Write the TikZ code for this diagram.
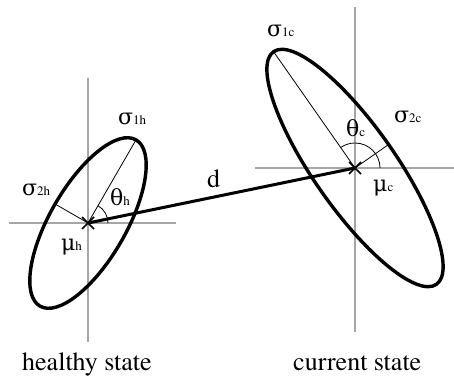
\documentclass[tikz,border=0pt]{standalone}
\usepackage{fontspec}
\setmainfont{TeX Gyre Termes}
\newfontfamily\grk{DejaVu Serif}
\usetikzlibrary{calc}
\newcommand\glab[2]{{\grk\fontsize{22}{22}\selectfont #1}{\fontsize{13}{13}\selectfont #2}}
\begin{document}
\begin{tikzpicture}[x=1pt,y=1pt,
  axisline/.style={draw=black!35,line width=1.3pt},
  ell/.style={draw=black,line width=3.4pt},
  thin/.style={draw=black,line width=0.8pt},
  crossline/.style={draw=black,line width=1.6pt},
  lbl/.style={anchor=base west,inner sep=0pt,font=\fontsize{26}{26}\selectfont}]
\useasboundingbox (0,0) rectangle (454,375);
% centers
\coordinate (hc) at (88,152);
\coordinate (cc) at (355,207);
% gray axes
\coordinate (hvt) at (88,297);
\coordinate (hvb) at (88,33);
\coordinate (hhl) at (9,152);
\coordinate (hhr) at (176,152);
\coordinate (cvt) at (355,368);
\coordinate (cvb) at (355,43);
\coordinate (chl) at (255,207);
\coordinate (chr) at (454,207);
\draw[axisline] (hvt) -- (hvb);
\draw[axisline] (hhl) -- (hhr);
\draw[axisline] (cvt) -- (cvb);
\draw[axisline] (chl) -- (chr);
% ellipses
\draw[ell,rotate around={60:(hc)}] (hc) ellipse [x radius=96pt, y radius=38pt];
\draw[ell,rotate around={125:(cc)}] (cc) ellipse [x radius=142pt, y radius=41pt];
% principal axes
\coordinate (h1) at ($(hc)+(60:96pt)$);
\coordinate (h2) at ($(hc)+(150:38pt)$);
\coordinate (c1) at ($(cc)+(125:142pt)$);
\coordinate (c2) at ($(cc)+(35:41pt)$);
\draw[thin] (hc) -- (h1);
\draw[thin] (hc) -- (h2);
\draw[thin] (cc) -- (c1);
\draw[thin] (cc) -- (c2);
% angle arcs
\draw[thin] ($(hc)+(20pt,0)$) arc[start angle=0,end angle=60,radius=20pt];
\draw[thin] ($(cc)+(25pt,0)$) arc[start angle=0,end angle=125,radius=25pt];
% distance
\draw[line width=3pt] (hc) -- (cc);
% crosses
\draw[crossline] ($(hc)+(-6pt,-6pt)$) -- ($(hc)+(6pt,6pt)$);
\draw[crossline] ($(hc)+(-6pt,6pt)$) -- ($(hc)+(6pt,-6pt)$);
\draw[crossline] ($(cc)+(-6pt,-6pt)$) -- ($(cc)+(6pt,6pt)$);
\draw[crossline] ($(cc)+(-6pt,6pt)$) -- ($(cc)+(6pt,-6pt)$);
% labels
\node[lbl] (s1h) at (118,250) {\glab{σ}{1h}};
\node[lbl] (s2h) at (22,180) {\glab{σ}{2h}};
\node[lbl] (th) at (110,170) {\glab{θ}{h}};
\node[lbl] (mh) at (61,125) {\glab{μ}{h}};
\node[lbl] (s1c) at (267,338) {\glab{σ}{1c}};
\node[lbl] (s2c) at (394,252) {\glab{σ}{2c}};
\node[lbl] (tc) at (346,238) {\glab{θ}{c}};
\node[lbl] (mc) at (373,183) {\glab{μ}{c}};
\node[lbl] (d) at (207,187) {d};
\node[lbl] (hs) at (22,5) {healthy state};
\node[lbl] (cs) at (293,5) {current state};
\end{tikzpicture}
\end{document}
